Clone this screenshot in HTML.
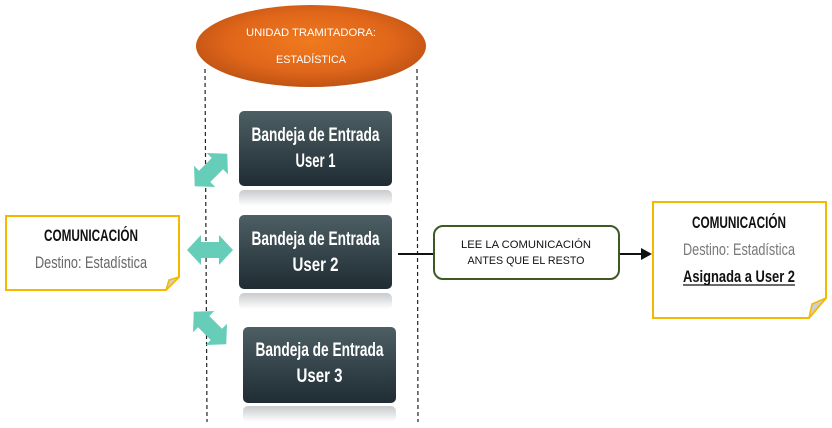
<!DOCTYPE html>
<html><head><meta charset="utf-8"><style>
html,body{margin:0;padding:0;background:#fff;width:832px;height:428px;overflow:hidden}
text{font-family:"Liberation Sans Narrow","Liberation Sans",sans-serif}
</style></head><body>
<svg width="832" height="428" viewBox="0 0 832 428" xmlns="http://www.w3.org/2000/svg">
<defs>
<radialGradient id="org" cx="50%" cy="45%" r="60%">
<stop offset="0" stop-color="#f07a1e"/><stop offset="0.6" stop-color="#e0661a"/><stop offset="1" stop-color="#b84f12"/>
</radialGradient>
<linearGradient id="box" x1="0" y1="0" x2="0" y2="1">
<stop offset="0" stop-color="#4d5f64"/><stop offset="1" stop-color="#1f2c33"/>
</linearGradient>
<linearGradient id="refl" x1="0" y1="0" x2="0" y2="1">
<stop offset="0" stop-color="#c8cacc"/><stop offset="1" stop-color="#ffffff"/>
</linearGradient>
<polygon id="dbl" points="-23,0 -9,-15 -9,-8 9,-8 9,-15 23,0 9,15 9,8 -9,8 -9,15" fill="#66cdb9"/>
</defs>

<ellipse cx="311" cy="46" rx="115" ry="41" fill="url(#org)"/>
<text x="311" y="36" font-size="11" fill="#fff" text-anchor="middle" style="font-family:'Liberation Sans',sans-serif" textLength="130" lengthAdjust="spacingAndGlyphs">UNIDAD TRAMITADORA:</text>
<text x="311" y="63" font-size="11" fill="#fff" text-anchor="middle" style="font-family:'Liberation Sans',sans-serif" textLength="70" lengthAdjust="spacingAndGlyphs">ESTADÍSTICA</text>

<line x1="205" y1="69" x2="207" y2="422" stroke="#222" stroke-width="1.2" stroke-dasharray="4,3"/>
<line x1="417" y1="69" x2="418" y2="422" stroke="#222" stroke-width="1.2" stroke-dasharray="4,3"/>

<rect x="239" y="190" width="153" height="16" rx="5" fill="url(#refl)"/>
<rect x="239" y="111" width="153" height="75" rx="5" fill="url(#box)"/>
<text x="315.5" y="141" font-size="19" font-weight="bold" fill="#fff" text-anchor="middle" textLength="128" lengthAdjust="spacingAndGlyphs">Bandeja de Entrada</text>
<text x="315.5" y="167" font-size="19" font-weight="bold" fill="#fff" text-anchor="middle" textLength="40" lengthAdjust="spacingAndGlyphs">User 1</text>

<rect x="239" y="293" width="153" height="16" rx="5" fill="url(#refl)"/>
<rect x="239" y="215" width="153" height="74" rx="5" fill="url(#box)"/>
<text x="315.5" y="245" font-size="19" font-weight="bold" fill="#fff" text-anchor="middle" textLength="128" lengthAdjust="spacingAndGlyphs">Bandeja de Entrada</text>
<text x="315.5" y="271" font-size="19" font-weight="bold" fill="#fff" text-anchor="middle" textLength="46" lengthAdjust="spacingAndGlyphs">User 2</text>

<rect x="243" y="406" width="153" height="16" rx="5" fill="url(#refl)"/>
<rect x="243" y="327" width="153" height="76" rx="5" fill="url(#box)"/>
<text x="319.5" y="356" font-size="19" font-weight="bold" fill="#fff" text-anchor="middle" textLength="128" lengthAdjust="spacingAndGlyphs">Bandeja de Entrada</text>
<text x="319.5" y="382" font-size="19" font-weight="bold" fill="#fff" text-anchor="middle" textLength="46" lengthAdjust="spacingAndGlyphs">User 3</text>

<use href="#dbl" transform="translate(211,170) rotate(-45)"/>
<use href="#dbl" transform="translate(210,250)"/>
<use href="#dbl" transform="translate(210,328) rotate(45)"/>

<path d="M6,216 H179 V277 L166,290 H6 Z" fill="#fff" stroke="#f5b800" stroke-width="2"/>
<path d="M166,290 L169,280 L179,277 Z" fill="#cfcfcf" stroke="#f5b800" stroke-width="1.5"/>
<text x="91" y="241" font-size="17" font-weight="bold" fill="#111" text-anchor="middle" textLength="94" lengthAdjust="spacingAndGlyphs">COMUNICACIÓN</text>
<text x="91" y="268" font-size="17" fill="#666" text-anchor="middle" textLength="112" lengthAdjust="spacingAndGlyphs">Destino: Estadística</text>

<line x1="398" y1="254" x2="433" y2="254" stroke="#111" stroke-width="2"/>
<line x1="619" y1="254" x2="643" y2="254" stroke="#111" stroke-width="2"/>
<polygon points="641,248 652,254 641,260" fill="#111"/>
<rect x="434" y="226" width="185" height="53" rx="9" fill="#fff" stroke="#3d5a23" stroke-width="2"/>
<text x="526" y="248" font-size="11" fill="#111" text-anchor="middle" style="font-family:'Liberation Sans',sans-serif" textLength="130" lengthAdjust="spacingAndGlyphs">LEE LA COMUNICACIÓN</text>
<text x="526" y="264" font-size="11" fill="#111" text-anchor="middle" style="font-family:'Liberation Sans',sans-serif" textLength="117" lengthAdjust="spacingAndGlyphs">ANTES QUE EL RESTO</text>

<path d="M653,202 H826 V298 L809,318 H653 Z" fill="#fff" stroke="#f5b800" stroke-width="2"/>
<path d="M809,318 L812,304 L826,298 Z" fill="#cfcfcf" stroke="#f5b800" stroke-width="1.5"/>
<text x="739" y="228" font-size="17" font-weight="bold" fill="#111" text-anchor="middle" textLength="94" lengthAdjust="spacingAndGlyphs">COMUNICACIÓN</text>
<text x="739" y="255" font-size="17" fill="#777" text-anchor="middle" textLength="112" lengthAdjust="spacingAndGlyphs">Destino: Estadística</text>
<text x="739" y="282" font-size="17" font-weight="bold" fill="#111" text-anchor="middle" textLength="112" lengthAdjust="spacingAndGlyphs">Asignada a User 2</text>
<line x1="683" y1="285" x2="795" y2="285" stroke="#111" stroke-width="1.2"/>
</svg>
</body></html>
